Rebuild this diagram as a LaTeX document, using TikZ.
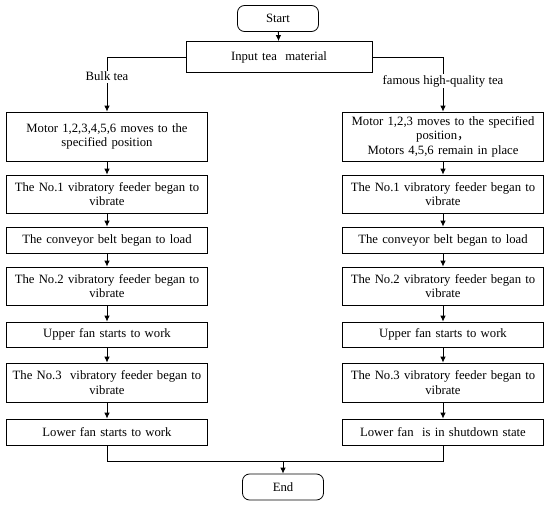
\documentclass[tikz,border=0pt]{standalone}
\usepackage{fontspec}
\setmainfont{Liberation Serif}
\newfontfamily\cjk{Noto Sans CJK SC}
\usepackage{tikz}
\usetikzlibrary{arrows.meta,positioning,calc}
\tikzset{
  stepbox/.style={draw,align=center,minimum width=201pt,text width=197pt,
                  inner sep=2pt,line width=0.8pt},
  term/.style={draw,rounded corners=7pt,minimum width=81pt,minimum height=26pt,
               line width=0.8pt},
  arr/.style={-{Latex[length=6pt,width=5.5pt]},line width=0.8pt},
  lbl/.style={fill=white,inner sep=1.5pt}
}
\begin{document}
\begin{tikzpicture}[x=1pt,y=-1pt,every node/.style={font=\fontsize{12.7}{14.5}\selectfont}]
  \useasboundingbox (0,0) rectangle (550,506);
  % ---- top ----
  \node[term] (start) at (278,18.5) {Start};
  \node[stepbox,minimum width=186pt,text width=180pt,minimum height=31pt] (inp) at (279,57) {Input tea\ \ material};
  \draw[arr] (start)--(inp);
  % ---- bulk tea column ----
  \node[stepbox,minimum height=49pt] (l1) at (107,136.5) {Motor 1,2,3,4,5,6 moves to the\\ specified position};
  \node[stepbox,minimum height=38pt] (l2) at (107,194) {The No.1 vibratory feeder began to\\ vibrate};
  \node[stepbox,minimum height=26pt] (l3) at (107,240) {The conveyor belt began to load};
  \node[stepbox,minimum height=38pt] (l4) at (107,286) {The No.2 vibratory feeder began to\\ vibrate};
  \node[stepbox,minimum height=25pt] (l5) at (107,334.5) {Upper fan starts to work};
  \node[stepbox,minimum height=39pt] (l6) at (107,382.5) {The No.3\ \ vibratory feeder began to\\ vibrate};
  \node[stepbox,minimum height=26pt] (l7) at (107,432) {Lower fan starts to work};
  % ---- famous tea column ----
  \node[stepbox,minimum height=49pt] (r1) at (443,136.5) {Motor 1,2,3 moves to the specified\\ position{\cjk ，}\\ Motors 4,5,6 remain in place};
  \node[stepbox,minimum height=38pt] (r2) at (443,194) {The No.1 vibratory feeder began to\\ vibrate};
  \node[stepbox,minimum height=26pt] (r3) at (443,240) {The conveyor belt began to load};
  \node[stepbox,minimum height=38pt] (r4) at (443,286) {The No.2 vibratory feeder began to\\ vibrate};
  \node[stepbox,minimum height=25pt] (r5) at (443,334.5) {Upper fan starts to work};
  \node[stepbox,minimum height=39pt] (r6) at (443,382.5) {The No.3 vibratory feeder began to\\ vibrate};
  \node[stepbox,minimum height=26pt] (r7) at (443,432) {Lower fan\ \ is in shutdown state};
  % branches
  \draw[arr] (inp.west) -| node[lbl,pos=0.68]{Bulk tea} (l1.north);
  \draw[arr] (inp.east) -| node[lbl,pos=0.72]{famous high-quality tea} (r1.north);
  % chains
  \draw[arr] (l1)--(l2);
  \draw[arr] (l2)--(l3);
  \draw[arr] (l3)--(l4);
  \draw[arr] (l4)--(l5);
  \draw[arr] (l5)--(l6);
  \draw[arr] (l6)--(l7);
  \draw[arr] (r1)--(r2);
  \draw[arr] (r2)--(r3);
  \draw[arr] (r3)--(r4);
  \draw[arr] (r4)--(r5);
  \draw[arr] (r5)--(r6);
  \draw[arr] (r6)--(r7);
  % ---- merge to end ----
  \node[term] (end) at (283,487) {End};
  \coordinate (join) at (283,461);
  \draw[line width=0.8pt] (l7.south) |- (join);
  \draw[line width=0.8pt] (r7.south) |- (join);
  \draw[arr] (join)--(end);
\end{tikzpicture}
\end{document}
